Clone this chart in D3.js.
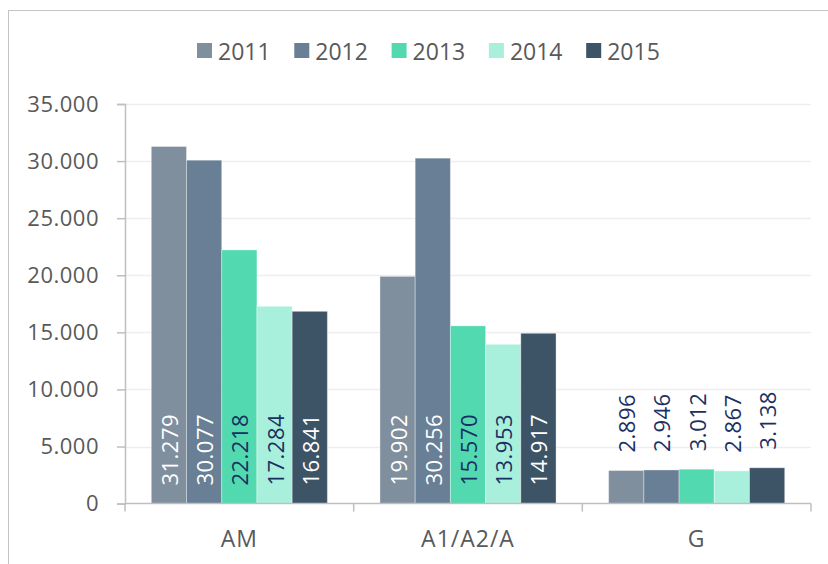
<!DOCTYPE html>
<html>
<head>
<meta charset="utf-8">
<script src="https://cdn.jsdelivr.net/npm/d3@7"></script>
<style>
  html, body { margin: 0; padding: 0; background: #fff; }
  svg { display: block; font-family: "Open Sans", "Liberation Sans", sans-serif; }
</style>
</head>
<body>
<svg id="chart" width="828" height="564"></svg>
<script>
const categories = ["AM", "A1/A2/A", "G"];
const years = ["2011", "2012", "2013", "2014", "2015"];
const values2011 = [31279, 19902, 2896];
const values2012 = [30077, 30256, 2946];
const values2013 = [22218, 15570, 3012];
const values2014 = [17284, 13953, 2867];
const values2015 = [16841, 14917, 3138];
const yTicks = [0, 5000, 10000, 15000, 20000, 25000, 30000, 35000];

const seriesValues = [values2011, values2012, values2013, values2014, values2015];
const colors = ["#808f9e", "#687f95", "#52d9b0", "#a9f0dc", "#3d5366"];
const insideLabelColors = ["#ffffff", "#ffffff", "#1b2f63", "#1b2f63", "#ffffff"];
const outsideLabelColor = "#1b2f63";

const locale = d3.formatLocale({ decimal: ",", thousands: ".", grouping: [3], currency: ["", ""] });
const fmt = locale.format(",d");

const svg = d3.select("#chart");

// outer frame
svg.append("rect")
  .attr("x", 8.5).attr("y", 10.5)
  .attr("width", 830).attr("height", 600)
  .attr("fill", "none").attr("stroke", "#c4c4c4").attr("stroke-width", 1);

const mLeft = 125, mRight = 811, mTop = 104, mBottom = 503.6;

const x0 = d3.scaleBand().domain(categories).range([mLeft, mRight]).padding(0);
const bandW = x0.bandwidth();
const inner = bandW * 0.115;
const x1 = d3.scaleBand().domain(years).range([inner, bandW - inner]).padding(0);
const y = d3.scaleLinear().domain([0, 35000]).range([mBottom, mTop]);

// gridlines
svg.append("g").selectAll("line")
  .data(yTicks.filter(d => d > 0))
  .join("line")
  .attr("x1", mLeft).attr("x2", mRight)
  .attr("y1", d => Math.round(y(d)) + 0.5).attr("y2", d => Math.round(y(d)) + 0.5)
  .attr("stroke", "#eeeeee").attr("stroke-width", 1.5);

// bars
const data = [];
categories.forEach((c, ci) => {
  years.forEach((yr, si) => {
    data.push({ cat: c, year: yr, si: si, value: seriesValues[si][ci] });
  });
});

const barG = svg.append("g");
barG.selectAll("rect")
  .data(data)
  .join("rect")
  .attr("x", d => x0(d.cat) + x1(d.year))
  .attr("y", d => y(d.value))
  .attr("width", x1.bandwidth())
  .attr("height", d => y(0) - y(d.value))
  .attr("fill", d => colors[d.si])
  .attr("stroke", "rgba(255,255,255,0.35)")
  .attr("stroke-width", 1);

// axes
const yAxis = d3.axisLeft(y).tickValues(yTicks).tickSize(8).tickPadding(18).tickFormat(d => fmt(d));
const yg = svg.append("g").attr("transform", `translate(${mLeft},0)`).call(yAxis);
yg.select(".domain").attr("stroke", "#bfbfbf").attr("stroke-width", 1.5);
yg.selectAll(".tick line").attr("stroke", "#bfbfbf").attr("stroke-width", 1.5);
yg.selectAll(".tick text").attr("fill", "#595959").attr("font-size", 22)
  .attr("letter-spacing", 0.5)
  .attr("font-family", "'Open Sans', sans-serif");

const xg = svg.append("g").attr("transform", `translate(0,${mBottom})`);
xg.append("line").attr("x1", mLeft).attr("x2", mRight).attr("y1", 0).attr("y2", 0)
  .attr("stroke", "#bfbfbf").attr("stroke-width", 1.5);
const boundaries = categories.map(c => x0(c)).concat([mRight]);
xg.selectAll(".bt").data(boundaries).join("line")
  .attr("class", "bt")
  .attr("x1", d => d).attr("x2", d => d).attr("y1", 0).attr("y2", 8)
  .attr("stroke", "#bfbfbf").attr("stroke-width", 1.5);
xg.selectAll(".cl").data(categories).join("text")
  .attr("class", "cl")
  .attr("x", d => x0(d) + bandW / 2)
  .attr("y", 34.5)
  .attr("text-anchor", "middle")
  .attr("dominant-baseline", "central")
  .attr("fill", "#595959")
  .attr("font-size", 23)
  .attr("letter-spacing", 1)
  .text(d => d);

// value labels
const labelSize = 22;
const labelG = svg.append("g");
labelG.selectAll("text")
  .data(data)
  .join("text")
  .attr("transform", d => {
    const cx = x0(d.cat) + x1(d.year) + x1.bandwidth() / 2;
    const inside = (y(0) - y(d.value)) > 100;
    const ys = inside ? y(0) - 18 : y(d.value) - 18;
    return `translate(${cx},${ys}) rotate(-90)`;
  })
  .attr("text-anchor", "start")
  .attr("dominant-baseline", "central")
  .attr("font-size", labelSize)
  .attr("letter-spacing", 0.5)
  .attr("fill", d => ((y(0) - y(d.value)) > 100) ? insideLabelColors[d.si] : outsideLabelColor)
  .text(d => fmt(d.value));

// legend
const legend = svg.append("g").attr("transform", "translate(197,0)");
const lg = legend.selectAll("g").data(years).join("g")
  .attr("transform", (d, i) => `translate(${i * 97.3},0)`);
lg.append("rect").attr("x", 0).attr("y", 43).attr("width", 15).attr("height", 15)
  .attr("fill", (d, i) => colors[i]);
lg.append("text").attr("x", 21).attr("y", 50.5)
  .attr("dominant-baseline", "central")
  .attr("fill", "#595959").attr("font-size", 23)
  .text(d => d);
</script>
</body>
</html>
